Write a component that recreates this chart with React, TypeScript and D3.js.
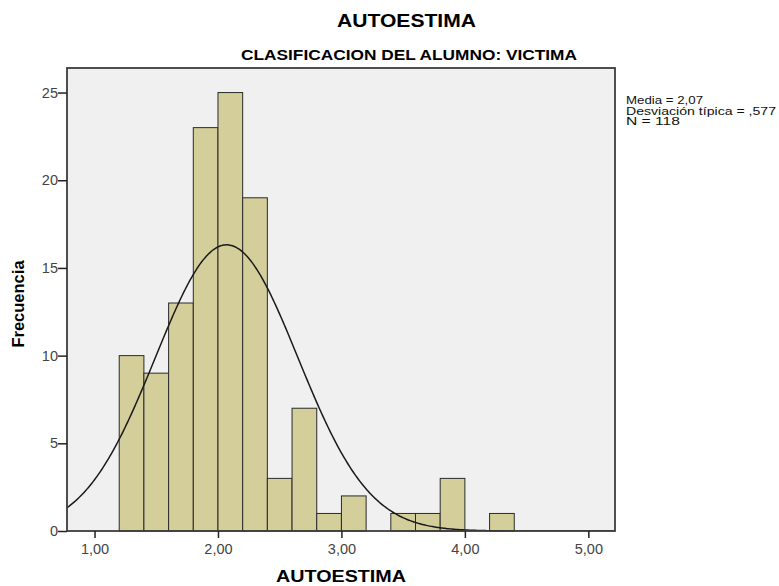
import React, { useEffect, useRef } from "react";
import * as d3 from "d3";

// histogram bins (lower edge) and counts
const binStarts = [1.2, 1.4, 1.6, 1.8, 2.0, 2.2, 2.4, 2.6, 2.8, 3.0, 3.2, 3.4, 3.6, 3.8, 4.0, 4.2];
const counts = [10, 9, 13, 23, 25, 19, 3, 7, 1, 2, 0, 1, 1, 3, 0, 1];
const binWidth = 0.2;

const xTicks = [1, 2, 3, 4, 5];
const yTicks = [0, 5, 10, 15, 20, 25];

const mean = 2.07;
const sd = 0.577;
const n = 118;
const statLines = ["Media = 2,07", "Desviación típica = ,577", "N = 118"];
const statWidths = [77, 150, 54];

const W = 779;
const H = 586;
const margin = { top: 68, right: 164, bottom: 55, left: 67 };
const FONT = "Liberation Sans, Arial, sans-serif";

const App = () => {
  const ref = useRef<SVGSVGElement>(null);

  useEffect(() => {
    const svg = d3.select(ref.current);
    svg.selectAll("*").remove();

    const x = d3.scaleLinear().domain([0.777, 5.216]).range([margin.left, W - margin.right]);
    const y = d3.scaleLinear().domain([0, 26.4]).range([H - margin.bottom, margin.top]);

    svg.append("rect").attr("width", W).attr("height", H).attr("fill", "#fff");

    // titles
    svg
      .append("text")
      .attr("x", 337)
      .attr("y", 27)
      .attr("font-family", FONT)
      .attr("font-weight", "bold")
      .attr("font-size", 19)
      .attr("textLength", 139)
      .attr("lengthAdjust", "spacingAndGlyphs")
      .text("AUTOESTIMA");

    svg
      .append("text")
      .attr("x", 241)
      .attr("y", 60)
      .attr("font-family", "Liberation Sans Narrow, Arial Narrow, Liberation Sans, sans-serif")
      .attr("font-weight", "bold")
      .attr("font-size", 14)
      .attr("textLength", 336)
      .attr("lengthAdjust", "spacingAndGlyphs")
      .text("CLASIFICACION DEL ALUMNO: VICTIMA");

    // plot background
    const g = svg.append("g");
    g.append("rect")
      .attr("x", margin.left)
      .attr("y", margin.top)
      .attr("width", W - margin.left - margin.right)
      .attr("height", H - margin.top - margin.bottom)
      .attr("fill", "#f0f0f0");

    const clipId = "plotclip";
    svg
      .append("clipPath")
      .attr("id", clipId)
      .append("rect")
      .attr("x", margin.left)
      .attr("y", margin.top)
      .attr("width", W - margin.left - margin.right)
      .attr("height", H - margin.top - margin.bottom);

    // bars
    g.selectAll("rect.bar")
      .data(binStarts.map((s, i) => ({ s, c: counts[i] })).filter((d) => d.c > 0))
      .enter()
      .append("rect")
      .attr("class", "bar")
      .attr("x", (d) => x(d.s))
      .attr("y", (d) => y(d.c))
      .attr("width", (d) => x(d.s + binWidth) - x(d.s))
      .attr("height", (d) => y(0) - y(d.c))
      .attr("fill", "#d3ce9a")
      .attr("stroke", "#2a2a2a")
      .attr("stroke-width", 1);

    // normal curve
    const scaleK = (n * binWidth) / (sd * Math.sqrt(2 * Math.PI));
    const pts = d3.range(0.777, 5.22, 0.01).map((v) => [v, scaleK * Math.exp(-0.5 * ((v - mean) / sd) ** 2)]);
    g.append("path")
      .datum(pts)
      .attr("clip-path", `url(#${clipId})`)
      .attr("fill", "none")
      .attr("stroke", "#1a1a1a")
      .attr("stroke-width", 1.5)
      .attr(
        "d",
        d3
          .line()
          .x((d: any) => x(d[0]))
          .y((d: any) => y(d[1]))
      );

    // frame
    g.append("rect")
      .attr("x", margin.left)
      .attr("y", margin.top)
      .attr("width", W - margin.left - margin.right)
      .attr("height", H - margin.top - margin.bottom)
      .attr("fill", "none")
      .attr("stroke", "#3c3c3c")
      .attr("stroke-width", 1.8);

    // axes
    const xAxis = svg
      .append("g")
      .attr("transform", `translate(0,${H - margin.bottom})`)
      .call(
        d3
          .axisBottom(x)
          .tickValues(xTicks)
          .tickSize(7)
          .tickFormat((d: any) => d3.format(".2f")(d).replace(".", ","))
      );
    xAxis.select(".domain").remove();
    xAxis.selectAll("line").attr("stroke", "#222").attr("stroke-width", 1.5);
    xAxis
      .selectAll("text")
      .attr("font-family", FONT)
      .attr("font-size", 14.5)
      .attr("fill", "#444")
      .attr("y", 0)
      .attr("dy", 0)
      .attr("transform", "translate(0,23)");

    const yAxis = svg
      .append("g")
      .attr("transform", `translate(${margin.left},0)`)
      .call(d3.axisLeft(y).tickValues(yTicks).tickSize(9).tickFormat((d: any) => String(d)));
    yAxis.select(".domain").remove();
    yAxis.selectAll("line").attr("stroke", "#222").attr("stroke-width", 1.5);
    yAxis
      .selectAll("text")
      .attr("font-family", FONT)
      .attr("font-size", 14.5)
      .attr("fill", "#444")
      .attr("x", -9);

    // axis titles
    svg
      .append("text")
      .attr("x", 276)
      .attr("y", 582)
      .attr("font-family", FONT)
      .attr("font-weight", "bold")
      .attr("font-size", 17)
      .attr("textLength", 130)
      .attr("lengthAdjust", "spacingAndGlyphs")
      .text("AUTOESTIMA");

    svg
      .append("text")
      .attr("transform", `translate(24,304) rotate(-90)`)
      .attr("text-anchor", "middle")
      .attr("font-family", FONT)
      .attr("font-weight", "bold")
      .attr("font-size", 16.5)
      .text("Frecuencia");

    // stats
    statLines.forEach((s, i) => {
      svg
        .append("text")
        .attr("x", 626)
        .attr("y", 104 + i * 10.5)
        .attr("font-family", FONT)
        .attr("font-size", 11.5)
        .attr("fill", "#111")
        .attr("textLength", statWidths[i])
        .attr("lengthAdjust", "spacingAndGlyphs")
        .text(s);
    });
  }, []);

  return <svg ref={ref} width={W} height={H} style={{ position: "absolute", left: 0, top: 0 }} />;
};

export default App;
